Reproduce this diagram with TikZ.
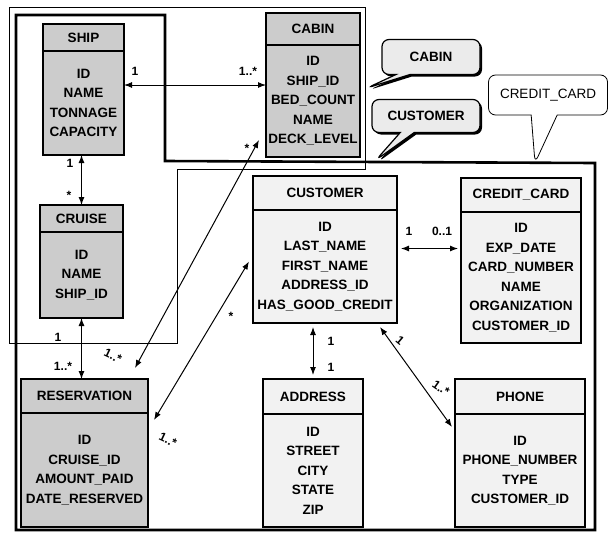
\documentclass[tikz,border=0pt]{standalone}
\usepackage{fontspec}
\setmainfont{Liberation Sans}
\usetikzlibrary{arrows.meta,shapes.callouts,shadows}
\tikzset{
  entity/.style={draw, line width=1.3pt, inner sep=2pt, outer sep=0pt, align=center, font=\bfseries\fontsize{13.5}{19.5}\selectfont},
  dark/.style={fill=black!20},
  light/.style={fill=black!5},
  mult/.style={font=\bfseries\fontsize{12}{12}\selectfont, inner sep=0pt},
  rel/.style={<->, line width=1pt},
  note/.style={rectangle callout, draw, rounded corners=7pt, callout pointer width=14pt, font=\fontsize{13.5}{13.5}\selectfont},
  boldnote/.style={note, line width=1.2pt, fill=black!8, font=\bfseries\fontsize{13.5}{13.5}\selectfont,
    drop shadow={shadow xshift=2pt, shadow yshift=-2pt, fill=black, opacity=1}}
}
\begin{document}
\begin{tikzpicture}[>={Latex[length=8pt,width=6pt]}, x=1pt, y=-1pt]
\useasboundingbox (0,0) rectangle (612,533);
\draw[line width=0.8pt] (9,7)--(365,7)--(365,169)--(177,169)--(177,343)--(9,343)--cycle;
\draw[line width=2.6pt] (16,15)--(165,15)--(165,161)--(595,163)--(595,530)--(16,530)--cycle;

\node[entity, dark, minimum width=81pt, minimum height=27pt, anchor=north west] (ship) at (43,24) {SHIP};
\node[entity, dark, minimum width=81pt, minimum height=104pt, anchor=north] (shipa) at (ship.south) {ID\\NAME\\TONNAGE\\CAPACITY};
\node[entity, dark, minimum width=94pt, minimum height=32pt, anchor=north west] (cabin) at (266,13) {CABIN};
\node[entity, dark, minimum width=94pt, minimum height=112pt, anchor=north] (cabina) at (cabin.south) {ID\\SHIP\_ID\\BED\_COUNT\\NAME\\DECK\_LEVEL};
\node[entity, dark, minimum width=83pt, minimum height=27pt, anchor=north west] (cruise) at (40,205) {CRUISE};
\node[entity, dark, minimum width=83pt, minimum height=86pt, anchor=north] (cruisea) at (cruise.south) {ID\\NAME\\SHIP\_ID};
\node[entity, dark, minimum width=127pt, minimum height=34pt, anchor=north west] (res) at (21,379) {RESERVATION};
\node[entity, dark, minimum width=127pt, minimum height=114pt, anchor=north] (resa) at (res.south) {ID\\CRUISE\_ID\\AMOUNT\_PAID\\DATE\_RESERVED};
\node[entity, light, minimum width=144pt, minimum height=34pt, anchor=north west] (cust) at (253,176) {CUSTOMER};
\node[entity, light, minimum width=144pt, minimum height=113pt, anchor=north] (custa) at (cust.south) {ID\\LAST\_NAME\\FIRST\_NAME\\ADDRESS\_ID\\HAS\_GOOD\_CREDIT};
\node[entity, light, minimum width=120pt, minimum height=34pt, anchor=north west] (cc) at (461,178) {CREDIT\_CARD};
\node[entity, light, minimum width=120pt, minimum height=131pt, anchor=north] (cca) at (cc.south) {ID\\EXP\_DATE\\CARD\_NUMBER\\NAME\\ORGANIZATION\\CUSTOMER\_ID};
\node[entity, light, minimum width=100pt, minimum height=35pt, anchor=north west] (addr) at (263,379) {ADDRESS};
\node[entity, light, minimum width=100pt, minimum height=113pt, anchor=north] (addra) at (addr.south) {ID\\STREET\\CITY\\STATE\\ZIP};
\node[entity, light, minimum width=130pt, minimum height=35pt, anchor=north west] (phone) at (455,379) {PHONE};
\node[entity, light, minimum width=130pt, minimum height=113pt, anchor=north] (phonea) at (phone.south) {ID\\PHONE\_NUMBER\\TYPE\\CUSTOMER\_ID};

\coordinate (sc) at ([yshift=18pt]shipa.east);
\draw[rel] (sc)--(sc -| cabina.west);
\draw[rel] (cruise.north |- shipa.south)--(cruise.north);
\draw[rel] (cruisea.south)--(cruisea.south |- res.north);
\draw[rel] ([xshift=-7pt,yshift=-39pt]cabina.west)--([xshift=-13pt,yshift=11pt]res.north east);
\draw[rel] ([xshift=-4pt,yshift=5pt]custa.west)--([xshift=6pt,yshift=-7pt]resa.north east);
\coordinate (cu) at ([yshift=18pt]custa.east);
\draw[rel, shorten <=4pt, shorten >=3pt] (cu)--(cu -| cca.west);
\draw[rel, shorten <=4pt, shorten >=4pt] (addr.north |- custa.south)--(addr.north);
\draw[rel] ([xshift=-17pt,yshift=-4pt]custa.south east)--([xshift=-3pt,yshift=-13pt]phonea.north west);

\node[mult] (m1) at (135,71) {1};
\node[mult] (m2) at (248,71) {1..*};
\node[mult] (m3) at (70,163) {1};
\node[mult] (m4) at (69,195) {*};
\node[mult] (m5) at (58,337) {1};
\node[mult] (m6) at (63,366) {1..*};
\node[mult] (m7) at (247,148) {*};
\node[mult, rotate=-25] (m8) at (113,356) {1..*};
\node[mult] (m9) at (231,316) {*};
\node[mult, rotate=-25] (m10) at (168,440) {1..*};
\node[mult] (m11) at (409,231) {1};
\node[mult] (m12) at (442,231) {0..1};
\node[mult] (m13) at (331,341) {1};
\node[mult] (m14) at (331,367) {1};
\node[mult, rotate=-40] (m15) at (400,340) {1};
\node[mult, rotate=-35] (m16) at (441,388) {1..*};

\node[boldnote, minimum width=98pt, minimum height=35pt, callout absolute pointer={(367,88)}] (cabinnote) at (431,57) {CABIN};
\node[boldnote, minimum width=108pt, minimum height=33pt, callout absolute pointer={(376,160)}] (custnote) at (426,116) {CUSTOMER};
\node[note, line width=0.8pt, fill=white, minimum width=119pt, minimum height=40pt, callout pointer width=26pt, callout absolute pointer={(535,163)}] (ccnote) at (548,95) {CREDIT\_CARD};
\end{tikzpicture}
\end{document}
